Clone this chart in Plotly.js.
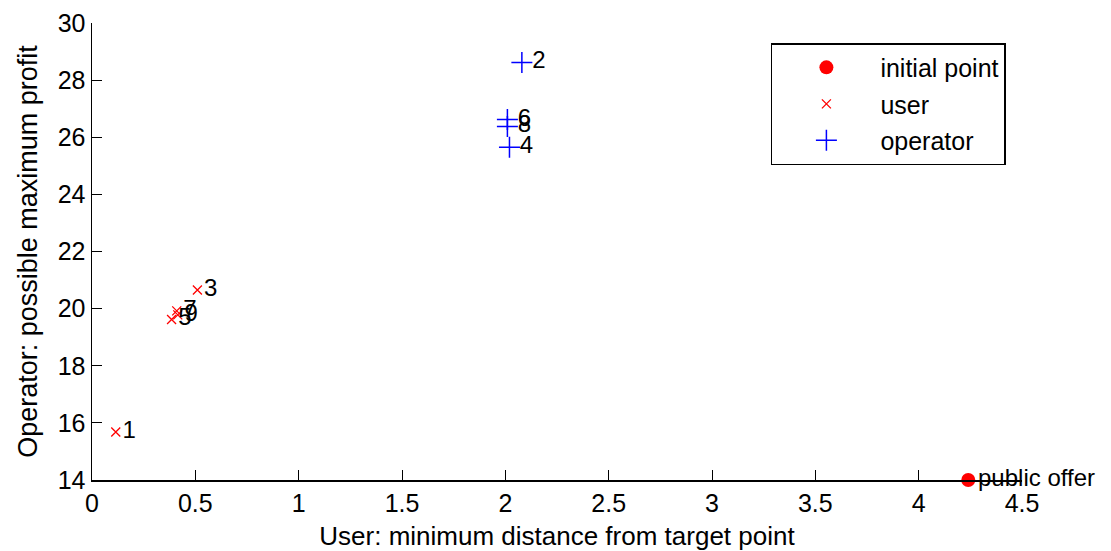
<!DOCTYPE html>
<html>
<head>
<meta charset="utf-8">
<script src="https://cdn.plot.ly/plotly-3.0.1.min.js"></script>
<style>html,body{margin:0;padding:0;background:#fff;}#chart{width:1111px;height:551px;}</style>
</head>
<body>
<div id="chart"></div>
<script>
// Data
const initialX = [4.24];
const initialY = [14.0];
const initialLabels = ['public offer'];

const userX = [0.115, 0.51, 0.385, 0.41, 0.415];
const userY = [15.68, 20.65, 19.62, 19.92, 19.78];
const userLabels = ['1', '3', '5', '7', '9'];

const operatorX = [2.08, 2.02, 2.01, 2.01];
const operatorY = [28.62, 25.65, 26.62, 26.38];
const operatorLabels = ['2', '4', '6', '8'];

const xTicks = [0, 0.5, 1, 1.5, 2, 2.5, 3, 3.5, 4, 4.5];
const yTicks = [14, 16, 18, 20, 22, 24, 26, 28, 30];

const FONT = 'Liberation Sans, Arial, sans-serif';
const labelFont = {family: FONT, size: 24, color: '#000'};

const traces = [
  {
    x: initialX, y: initialY, text: initialLabels, name: 'initial point',
    mode: 'markers+text', type: 'scatter', textposition: 'middle right',
    textfont: labelFont, cliponaxis: false, legendgroup: 'a',
    marker: {symbol: 'circle', color: '#ff0000', size: 14}
  },
  {
    x: userX, y: userY, text: userLabels, name: 'user',
    mode: 'markers+text', type: 'scatter', textposition: 'middle right',
    textfont: labelFont, cliponaxis: false, legendgroup: 'b',
    marker: {symbol: 'x-thin-open', color: '#ff0000', size: 9, line: {color: '#ff0000', width: 1.3}}
  },
  {
    x: operatorX, y: operatorY, text: operatorLabels, name: 'operator',
    mode: 'markers+text', type: 'scatter', textposition: 'middle right',
    textfont: labelFont, cliponaxis: false, legendgroup: 'c',
    marker: {symbol: 'cross-thin-open', color: '#0000ff', size: 15, line: {color: '#0000ff', width: 1.5}}
  }
];

const layout = {
  width: 1111, height: 551,
  margin: {l: 92, r: 89, t: 23, b: 71},
  paper_bgcolor: '#fff', plot_bgcolor: '#fff',
  font: {family: FONT, size: 25, color: '#000'},
  showlegend: true,
  xaxis: {
    range: [0, 4.5], tickvals: xTicks, ticktext: xTicks.map(String),
    ticks: 'inside', ticklen: 10, tickcolor: '#000', tickwidth: 1,
    showline: true, linecolor: '#000', linewidth: 1.5,
    showgrid: false, zeroline: false,
    tickfont: {family: FONT, size: 25, color: '#000'},
    title: {text: 'User: minimum distance from target point', font: {family: FONT, size: 26, color: '#000'}, standoff: 11}
  },
  yaxis: {
    range: [14, 30], tickvals: yTicks, ticktext: yTicks.map(String),
    ticks: 'inside', ticklen: 10, tickcolor: '#000', tickwidth: 1,
    showline: true, linecolor: '#000', linewidth: 1.5,
    showgrid: false, zeroline: false,
    tickfont: {family: FONT, size: 25, color: '#000'},
    title: {text: 'Operator: possible maximum profit', font: {family: FONT, size: 27, color: '#000'}, standoff: 12}
  },
  legend: {
    x: 0.730, y: 0.956, xanchor: 'left', yanchor: 'top',
    bordercolor: '#000', borderwidth: 1.5, bgcolor: '#fff',
    font: {family: FONT, size: 25, color: '#000'},
    itemwidth: 98, tracegroupgap: 1
  }
};

Plotly.newPlot('chart', traces, layout, {displayModeBar: false, staticPlot: true});
</script>
</body>
</html>
